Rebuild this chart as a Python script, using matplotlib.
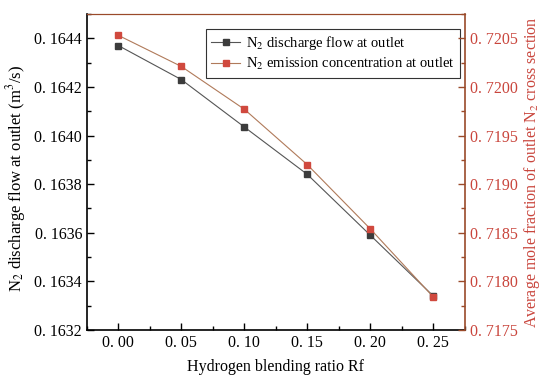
import matplotlib
matplotlib.use("Agg")
import matplotlib.pyplot as plt
from matplotlib.ticker import FixedLocator, AutoMinorLocator, FuncFormatter

rf = [0.00, 0.05, 0.10, 0.15, 0.20, 0.25]
flow = [0.16437, 0.16423, 0.164035, 0.16384, 0.16359, 0.16334]
mole = [0.72053, 0.72021, 0.71977, 0.71920, 0.71854, 0.71784]

x_ticks = [0.00, 0.05, 0.10, 0.15, 0.20, 0.25]
left_ticks = [0.1632, 0.1634, 0.1636, 0.1638, 0.1640, 0.1642, 0.1644]
right_ticks = [0.7175, 0.7180, 0.7185, 0.7190, 0.7195, 0.7200, 0.7205]

plt.rcParams['font.family'] = ['Liberation Serif', 'DejaVu Serif']
plt.rcParams['mathtext.fontset'] = 'stix'

red = '#c9453c'
brown = '#9a4a2a'
dark = '#3c3c3c'

fig = plt.figure(figsize=(5.5, 3.88), dpi=100)
ax = fig.add_axes([0.158, 0.1495, 0.687, 0.8145])
ax2 = ax.twinx()

l1, = ax.plot(rf, flow, color='#555555', lw=0.8, marker='s', ms=5,
              mfc=dark, mec=dark, label=r'N$_2$ discharge flow at outlet')
l2, = ax2.plot(rf, mole, color='#b07a5a', lw=0.8, marker='s', ms=5,
               mfc='#d0493e', mec='#d0493e', label=r'N$_2$ emission concentration at outlet')

ax.set_xlim(-0.025, 0.275)
ax.set_ylim(0.1632, 0.16450)
ax2.set_ylim(0.7175, 0.72075)

ax.xaxis.set_major_locator(FixedLocator(x_ticks))
ax.yaxis.set_major_locator(FixedLocator(left_ticks))
ax2.yaxis.set_major_locator(FixedLocator(right_ticks))
for a in (ax.xaxis, ax.yaxis, ax2.yaxis):
    a.set_minor_locator(AutoMinorLocator(2))

ax.xaxis.set_major_formatter(FuncFormatter(lambda v, p: f"{v:.2f}".replace('.', '. ')))
ax.yaxis.set_major_formatter(FuncFormatter(lambda v, p: f"{v:.4f}".replace('.', '. ')))
ax2.yaxis.set_major_formatter(FuncFormatter(lambda v, p: f"{v:.4f}".replace('.', '. ')))

ax.tick_params(axis='both', which='both', direction='in', labelsize=11.5, colors='black', width=1)
ax.tick_params(which='major', length=5)
ax.tick_params(which='minor', length=3)
ax2.tick_params(axis='y', which='both', direction='in', labelsize=11.5, colors=brown, labelcolor=red, width=1)
ax2.tick_params(which='major', length=5)
ax2.tick_params(which='minor', length=3)

for s in ('left', 'bottom'):
    ax.spines[s].set_linewidth(1.2)
ax.spines['top'].set_color(brown)
ax.spines['right'].set_visible(False)
ax2.spines['right'].set_color(brown)
ax2.spines['right'].set_linewidth(1.2)
ax2.spines['top'].set_color(brown)
ax2.spines['left'].set_visible(False)
ax2.spines['bottom'].set_visible(False)

ax.set_xlabel('Hydrogen blending ratio Rf', fontsize=11.5, labelpad=6)
ax.set_ylabel(r'N$_2$ discharge flow at outlet (m$^3$/s)', fontsize=12)
ax.yaxis.set_label_coords(-0.157, 0.48)
ax2.set_ylabel(r'Average mole fraction of outlet N$_2$ cross section', fontsize=11.5,
               color=red, labelpad=3)

leg = ax.legend(handles=[l1, l2], loc='upper right', bbox_to_anchor=(0.987, 0.953),
                borderaxespad=0, fontsize=10.5, frameon=True, fancybox=False, edgecolor='black',
                handlelength=2.0, handletextpad=0.4, borderpad=0.35, labelspacing=0.3)
leg.get_frame().set_linewidth(0.8)

fig.savefig('out.png', dpi=100)
